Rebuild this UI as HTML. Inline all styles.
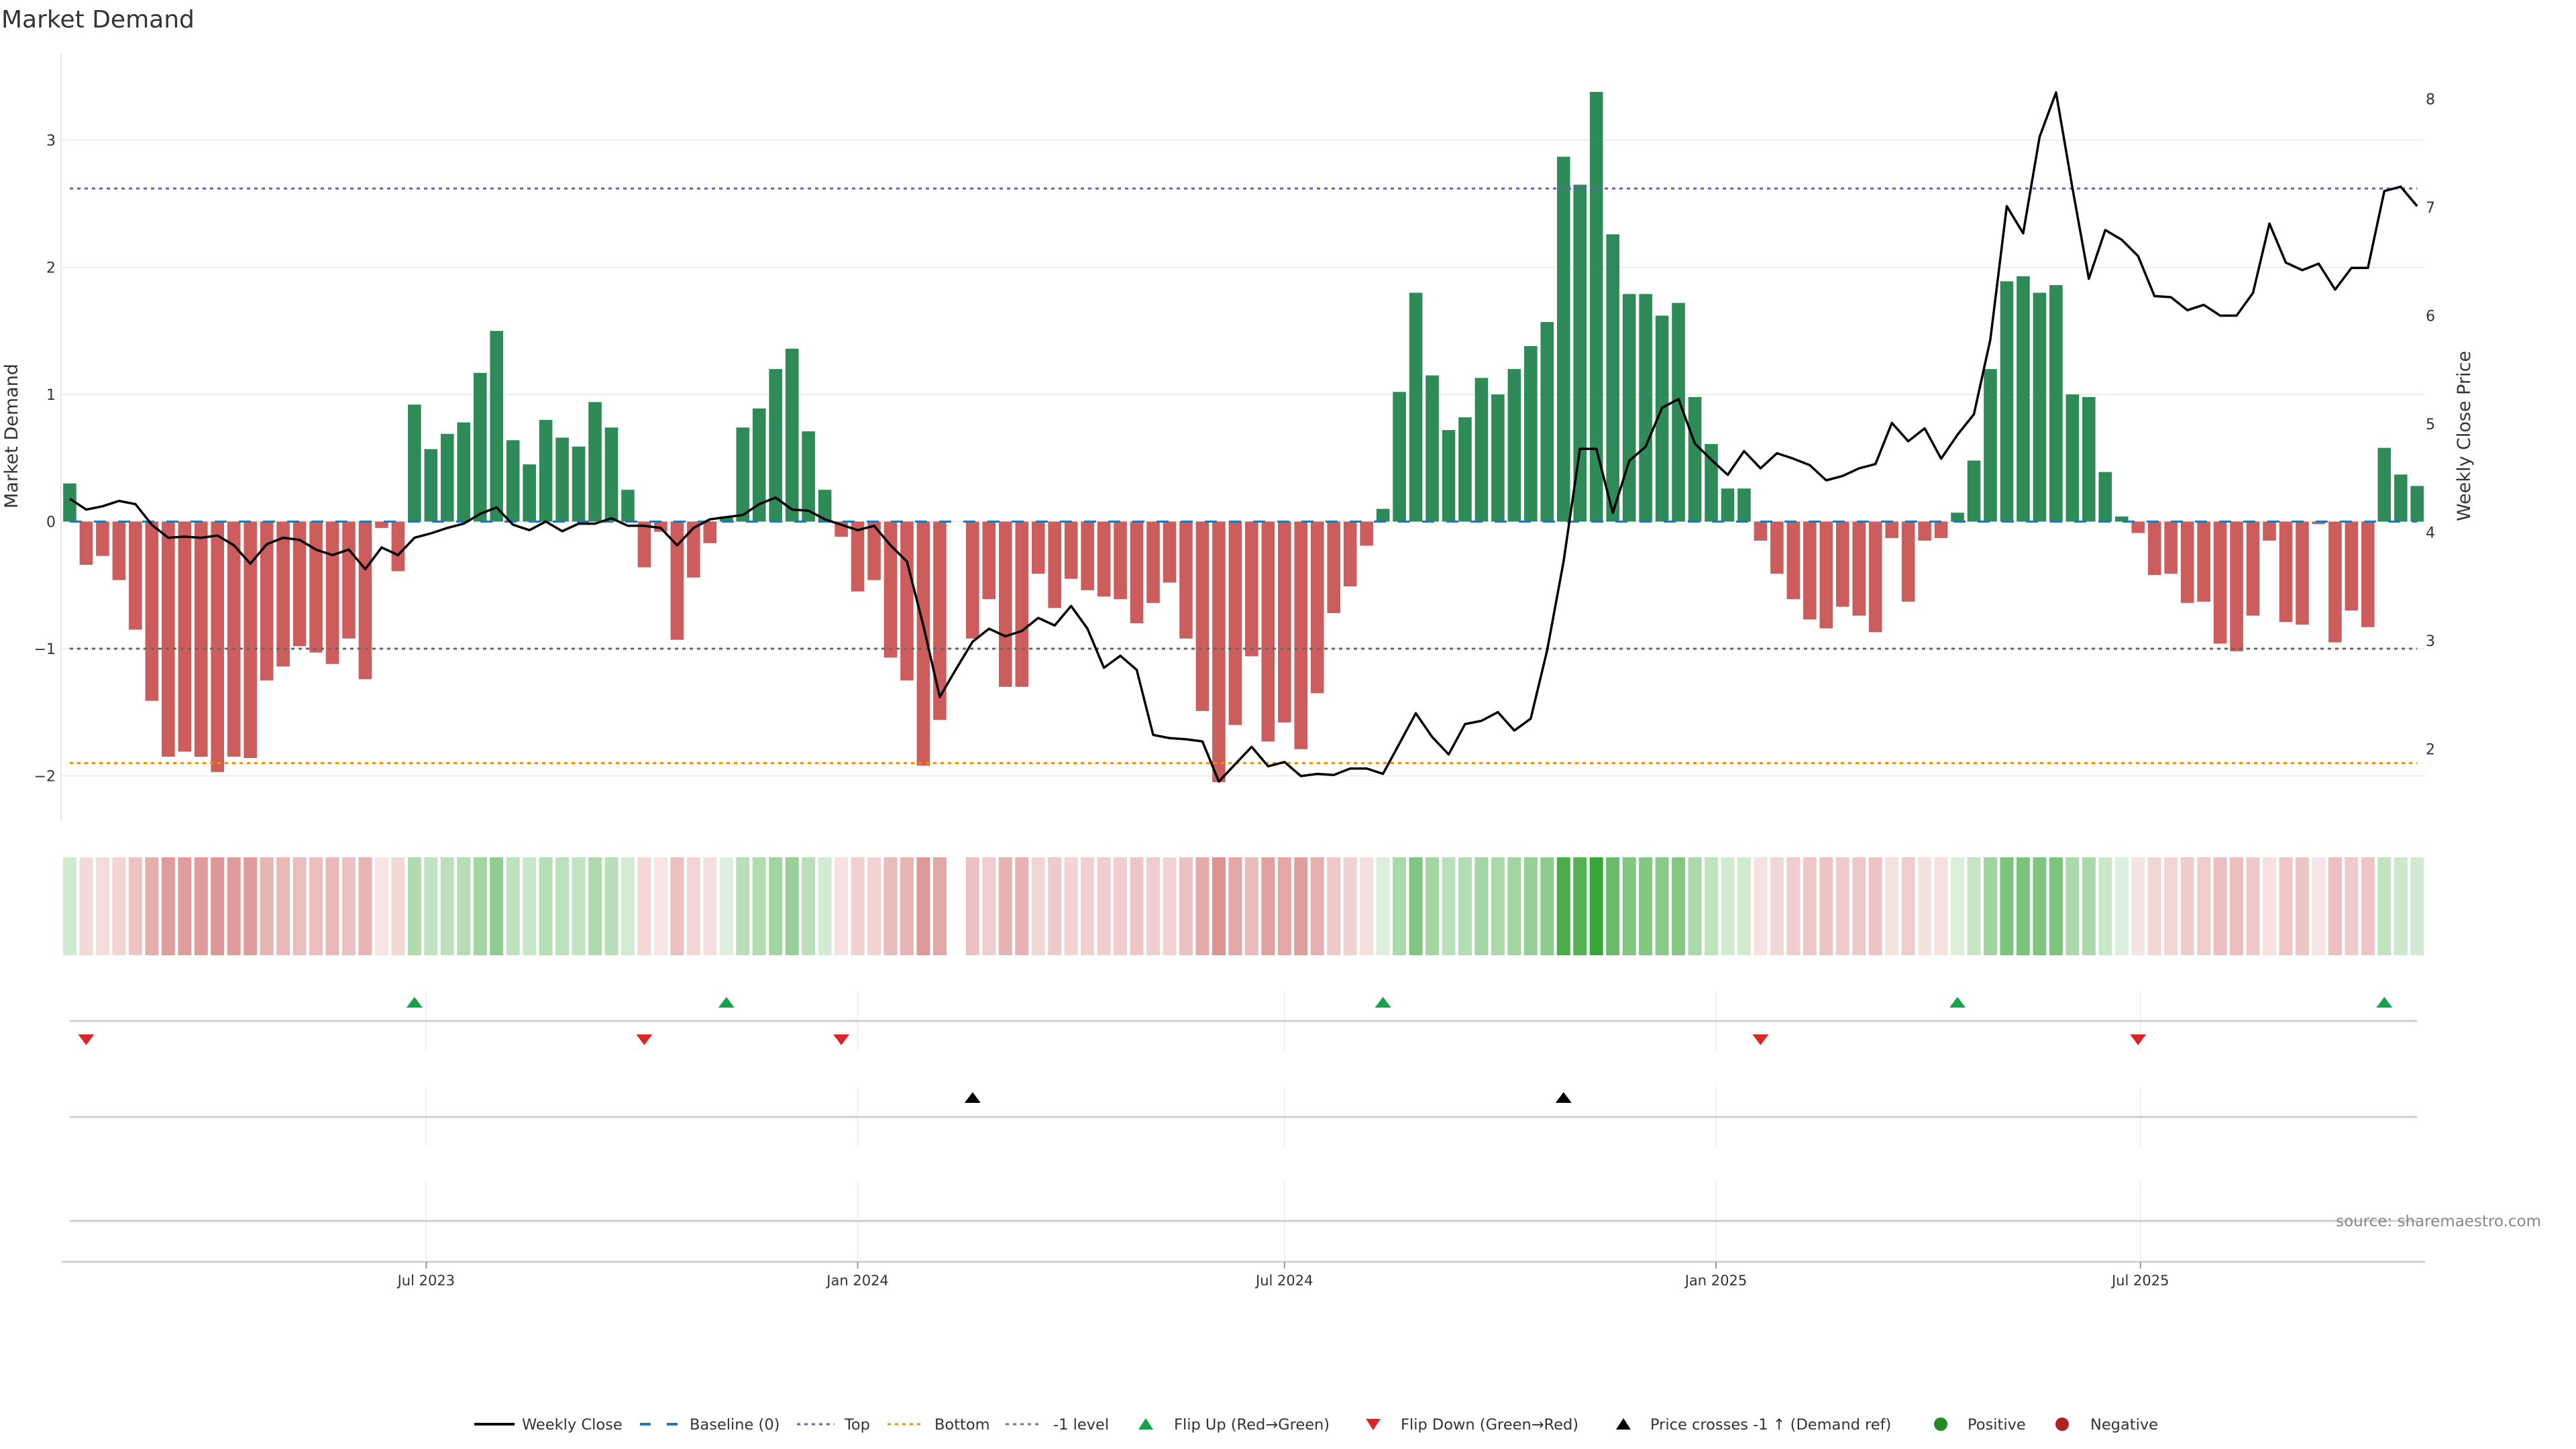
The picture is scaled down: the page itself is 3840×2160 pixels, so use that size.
<!DOCTYPE html>
<html><head><meta charset="utf-8"><style>
html,body{margin:0;padding:0;background:#fff;width:3840px;height:2160px;overflow:hidden}
svg{display:block;font-family:"DejaVu Sans","Liberation Sans",sans-serif}
</style></head><body>
<svg id="chart" width="3840" height="2160" xmlns="http://www.w3.org/2000/svg">
<text x="2" y="41" font-size="36" fill="#333">Market Demand</text>
<g id="layer"></g>
</svg>
<script>
const demand=[0.30,-0.34,-0.27,-0.46,-0.85,-1.41,-1.85,-1.81,-1.85,-1.97,-1.85,-1.86,-1.25,-1.14,-0.98,-1.03,-1.12,-0.92,-1.24,-0.05,
-0.39,0.92,0.57,0.69,0.78,1.17,1.50,0.64,0.45,0.80,0.66,0.59,0.94,0.74,0.25,-0.36,-0.08,-0.93,-0.44,-0.17,
0.04,0.74,0.89,1.20,1.36,0.71,0.25,-0.12,-0.55,-0.46,-1.07,-1.25,-1.92,-1.56,null,-0.92,-0.61,-1.30,-1.30,-0.41,
-0.68,-0.45,-0.54,-0.59,-0.61,-0.80,-0.64,-0.48,-0.92,-1.49,-2.05,-1.60,-1.06,-1.73,-1.58,-1.79,-1.35,-0.72,-0.51,-0.19,
0.10,1.02,1.80,1.15,0.72,0.82,1.13,1.00,1.20,1.38,1.57,2.87,2.65,3.38,2.26,1.79,1.79,1.62,1.72,0.98,
0.61,0.26,0.26,-0.15,-0.41,-0.61,-0.77,-0.84,-0.67,-0.74,-0.87,-0.13,-0.63,-0.15,-0.13,0.07,0.48,1.20,1.89,1.93,
1.80,1.86,1.00,0.98,0.39,0.04,-0.09,-0.42,-0.41,-0.64,-0.63,-0.96,-1.02,-0.74,-0.15,-0.79,-0.81,-0.02,-0.95,-0.70,
-0.83,0.58,0.37,0.28];
const closePrice=[4.31,4.21,4.24,4.29,4.26,4.07,3.95,3.96,3.95,3.97,3.88,3.71,3.89,3.95,3.93,3.84,3.79,3.84,3.66,3.86,
3.79,3.95,3.99,4.04,4.08,4.17,4.23,4.07,4.02,4.10,4.01,4.08,4.08,4.13,4.06,4.06,4.04,3.88,4.04,4.12,
4.14,4.16,4.26,4.32,4.21,4.20,4.12,4.07,4.02,4.06,3.88,3.73,3.14,2.48,2.74,2.99,3.11,3.04,3.09,3.21,
3.14,3.32,3.11,2.75,2.86,2.73,2.13,2.10,2.09,2.07,1.70,1.86,2.02,1.84,1.88,1.75,1.77,1.76,1.82,1.82,
1.77,2.05,2.33,2.11,1.95,2.23,2.26,2.34,2.17,2.28,2.91,3.73,4.77,4.77,4.18,4.66,4.79,5.15,5.23,4.82,
4.67,4.53,4.75,4.59,4.73,4.68,4.62,4.48,4.52,4.59,4.63,5.01,4.84,4.96,4.68,4.90,5.09,5.78,7.01,6.76,
7.65,8.06,7.18,6.34,6.79,6.70,6.55,6.18,6.17,6.05,6.10,6.00,6.00,6.21,6.85,6.49,6.42,6.48,6.24,6.44,
6.44,7.15,7.19,7.01];
const flipUp=[21,40,80,115,141];
const flipDown=[1,35,47,103,126];
const crossUp=[55,91];
const leftTicks=[3,2,1,0,-1,-2];
const rightTicks=[2,3,4,5,6,7,8];
const levelTop=2.62, levelBottom=-1.9, levelMinus=-1;
const dateTicks=["2023-07-01","2024-01-01","2024-07-01","2025-01-01","2025-07-01"];
const dateLabels=["Jul 2023","Jan 2024","Jul 2024","Jan 2025","Jul 2025"];
const startDate="2023-01-30";

const NS="http://www.w3.org/2000/svg";
const L=document.getElementById('layer');
function mk(tag,attrs,parent){const e=document.createElementNS(NS,tag);for(const k in attrs)e.setAttribute(k,attrs[k]);(parent||L).appendChild(e);return e;}
const X=i=>104+24.47*i;
const Y=v=>777.5-189.5*v;
const YR=p=>793.5-161.5*(p-4);
const dateIdx=d=>(new Date(d)-new Date(startDate))/86400000/7;
const xL=92,xR=3615;

leftTicks.forEach(t=>{
 const g=mk('line',{x1:xL,x2:xR,y1:Y(t),y2:Y(t),stroke:'#ececec','stroke-width':2});
 
 
 const tx=mk('text',{x:83,y:Y(t)+8,'text-anchor':'end','font-size':22,fill:'#333'});
 tx.textContent=t<0?'\u2212'+Math.abs(t):String(t);
 
 
});
rightTicks.forEach(t=>{
 const tx=mk('text',{x:3616,y:YR(t)+8,'font-size':22,fill:'#333'});
 tx.textContent=String(t);
 
 
});
const ax=mk('line',{x1:91,x2:91,y1:80,y2:1224,stroke:'#e6e6e6','stroke-width':2});



demand.forEach((v,i)=>{
 if(v===null)return;
 const y0=Y(0),y1=Y(v);
 const r=mk('rect',{x:X(i)-9.8,width:19.6,y:Math.min(y0,y1),height:Math.max(1,Math.abs(y1-y0)),fill:v>=0?'#2e8b57':'#cd5c5c'});
 
 
});
function hline(y,color,dash,name){const l=mk('line',{x1:X(0),x2:X(143),y1:y,y2:y,stroke:color,'stroke-width':3,'stroke-dasharray':dash});
 
 }
hline(Y(0),'#1f77b4','18 18','baseline-line');
hline(Y(levelTop),'#6a5acd','5 6','top-level-line');
hline(Y(levelBottom),'#ff8c00','5 6','bottom-level-line');
hline(Y(levelMinus),'#666','5 6','minus-one-level-line');
const pts=closePrice.map((p,i)=>X(i).toFixed(1)+','+YR(p).toFixed(1)).join(' ');
const pl=mk('polyline',{points:pts,fill:'none',stroke:'#000','stroke-width':3.5,'stroke-linejoin':'round'});



const lt=mk('text',{transform:'translate(26,650) rotate(-90)','text-anchor':'middle','font-size':27,fill:'#333'});
lt.textContent='Market Demand';


const rt=mk('text',{transform:'translate(3682,650) rotate(-90)','text-anchor':'middle','font-size':27,fill:'#333'});
rt.textContent='Weekly Close Price';



demand.forEach((v,i)=>{
 if(v===null)return;
 const a=Math.min(0.95,0.15+0.25*Math.abs(v));
 const c=mk('rect',{x:X(i)-10,width:20,y:1278,height:146,fill:v>=0?'#2ca02c':'#cd5c5c','fill-opacity':a});
 
 
});

dateTicks.forEach(d=>{
 const x=X(dateIdx(d));
 [[1478,1567],[1620,1708],[1761,1881]].forEach(r=>{
  const g=mk('line',{x1:x,x2:x,y1:r[0],y2:r[1],stroke:'#eef0f3','stroke-width':2});
  
  
 });
});
[1522,1665,1820].forEach(y=>{
 const l=mk('line',{x1:X(0),x2:X(143),y1:y,y2:y,stroke:'#d0d0d0','stroke-width':3});
 
 
});
function tri(x,y,up,color,name){
 const p=up?`${x-12},${y+8} ${x+12},${y+8} ${x},${y-8}`:`${x-12},${y-8} ${x+12},${y-8} ${x},${y+8}`;
 const t=mk('polygon',{points:p,fill:color});
 
 
}
flipUp.forEach(i=>tri(X(i),1494,true,'#16a34a','flip-up-marker'));
flipDown.forEach(i=>tri(X(i),1550,false,'#dc2626','flip-down-marker'));
crossUp.forEach(i=>tri(X(i),1636,true,'#000','price-cross-marker'));

const xa=mk('line',{x1:xL,x2:xR,y1:1881,y2:1881,stroke:'#d0d0d0','stroke-width':3});


dateTicks.forEach((d,k)=>{
 const x=X(dateIdx(d));
 const tk=mk('line',{x1:x,x2:x,y1:1881,y2:1891,stroke:'#999','stroke-width':2});
 
 
 const tx=mk('text',{x:x,y:1916,'text-anchor':'middle','font-size':21,fill:'#333'});
 tx.textContent=dateLabels[k];
 
 
});
const src=mk('text',{x:3788,y:1828,'text-anchor':'end','font-size':23,fill:'#888'});
src.textContent='source: sharemaestro.com';



const LG=mk('g',{});


const ly=2123;
function ltext(x,s,name){const t=mk('text',{x:x,y:ly+8,'font-size':22.5,fill:'#333'},LG);t.textContent=s;
 
 }
function lline(x1,x2,c,dash,w){mk('line',{x1:x1,x2:x2,y1:ly,y2:ly,stroke:c,'stroke-width':w,'stroke-dasharray':dash},LG);}
lline(707,767,'#000','',4);ltext(778,'Weekly Close','legend-weekly-close');
lline(954,1010,'#1f77b4','16 24',4);ltext(1028,'Baseline (0)','legend-baseline');
lline(1188,1244,'#6a5acd','5 6',3);ltext(1259,'Top','legend-top');
lline(1323,1377,'#ff8c00','5 6',3);ltext(1393,'Bottom','legend-bottom');
lline(1499,1553,'#777','5 6',3);ltext(1570,'-1 level','legend-minus-one');
mk('polygon',{points:'1697,2131 1719,2131 1708,2114',fill:'#16a34a'},LG);ltext(1750,'Flip Up (Red\u2192Green)','legend-flip-up');
mk('polygon',{points:'2036,2115 2058,2115 2047,2132',fill:'#dc2626'},LG);ltext(2088,'Flip Down (Green\u2192Red)','legend-flip-down');
mk('polygon',{points:'2409,2131 2431,2131 2420,2114',fill:'#000'},LG);ltext(2460,'Price crosses -1 \u2191 (Demand ref)','legend-price-cross');
mk('circle',{cx:2893,cy:ly,r:10,fill:'#228b22'},LG);ltext(2933,'Positive','legend-positive');
mk('circle',{cx:3074,cy:ly,r:10,fill:'#b22222'},LG);ltext(3116,'Negative','legend-negative');
</script>
</body></html>
